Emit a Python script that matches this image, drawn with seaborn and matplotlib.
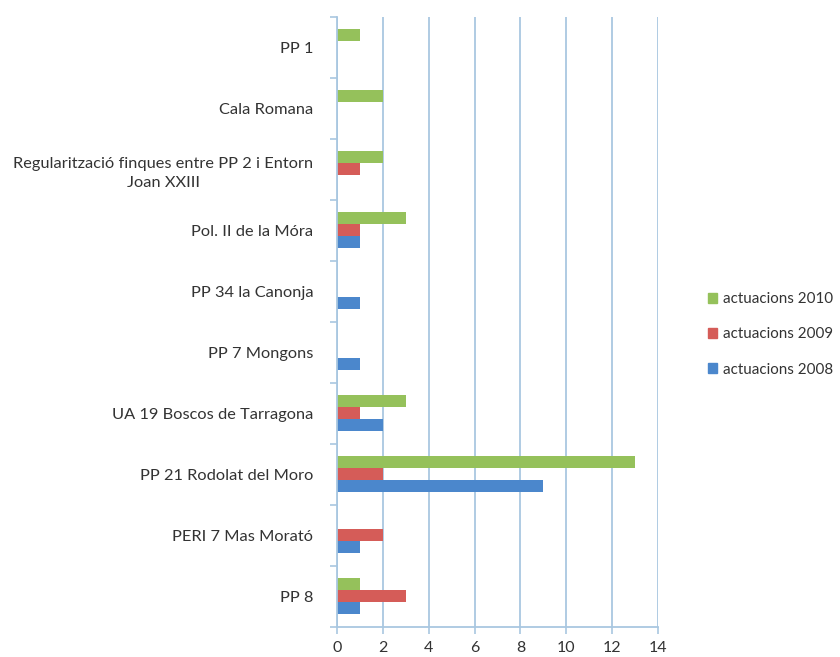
import numpy as np
import pandas as pd
import matplotlib
matplotlib.use("Agg")
import matplotlib.pyplot as plt
import seaborn as sns

# data, top to bottom
zones = [
    "PP 1",
    "Cala Romana",
    "Regularització finques entre PP 2 i Entorn\nJoan XXIII",
    "Pol. II de la Móra",
    "PP 34 la Canonja",
    "PP 7 Mongons",
    "UA 19 Boscos de Tarragona",
    "PP 21 Rodolat del Moro",
    "PERI 7 Mas Morató",
    "PP 8",
]
act_2010 = [1, 2, 2, 3, 0, 0, 3, 13, 0, 1]
act_2009 = [0, 0, 1, 1, 0, 0, 1, 2, 2, 3]
act_2008 = [0, 0, 0, 1, 1, 1, 2, 9, 1, 1]
series = ["actuacions 2010", "actuacions 2009", "actuacions 2008"]
colors = ["#95c15b", "#d55c58", "#4b87cc"]
x_ticks = [0, 2, 4, 6, 8, 10, 12, 14]

df = pd.DataFrame({
    "zona": zones * 3,
    "valor": act_2010 + act_2009 + act_2008,
    "serie": [s for s in series for _ in zones],
})

sns.set_theme(style="white")
plt.rcParams["font.family"] = ["Lato", "DejaVu Sans"]

fig = plt.figure(figsize=(8.4, 6.57), dpi=100)
ax = fig.add_axes([0.4012, 0.0457, 0.3821, 0.9285])

sns.barplot(data=df, y="zona", x="valor", hue="serie", hue_order=series,
            order=zones, orient="h", palette=colors, width=0.59,
            saturation=1, linewidth=0, ax=ax)

grid_c = "#a9c7e0"
ax.set_xlim(0, 14)
ax.set_xticks(x_ticks)
ax.set_axisbelow(True)
ax.xaxis.grid(True, color=grid_c, lw=1.3)
ax.yaxis.grid(False)
for s in ["top", "right"]:
    ax.spines[s].set_visible(False)
for s in ["left", "bottom"]:
    ax.spines[s].set_color(grid_c)
    ax.spines[s].set_linewidth(1.3)

ax.set_xlabel("")
ax.set_ylabel("")
ax.set_yticks(np.arange(-0.5, len(zones), 1), minor=True)
ax.tick_params(axis="y", which="major", length=0, pad=17, labelsize=11.8,
               labelcolor="#333333")
ax.tick_params(axis="y", which="minor", left=True, length=5, color=grid_c, width=1.2)
ax.tick_params(axis="x", bottom=True, length=5, color=grid_c, width=1.2,
               pad=5, labelsize=11.5, labelcolor="#333333")
for t in ax.get_yticklabels():
    t.set_multialignment("center")
    t.set_linespacing(1.45)

ax.get_legend().remove()
h = [plt.Rectangle((0, 0), 1, 1, color=c) for c in colors]
fig.legend(h, series, loc="center left", bbox_to_anchor=(0.834, 0.491),
           frameon=False, fontsize=10.9, handlelength=0.6, handleheight=0.6,
           handletextpad=0.4, labelspacing=1.4, borderpad=0,
           labelcolor="#333333")

fig.savefig("out.png", dpi=100, facecolor="white")
